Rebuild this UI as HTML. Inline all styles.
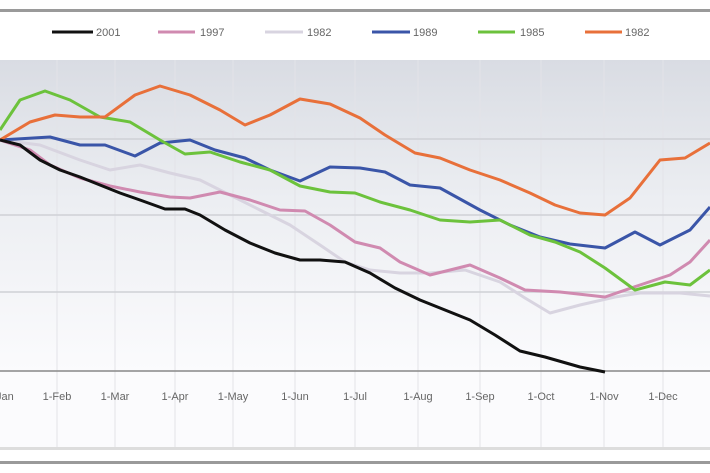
<!DOCTYPE html>
<html><head><style>
html,body{margin:0;padding:0;background:#fff;width:710px;height:473px;overflow:hidden}
svg{display:block}
text{font-family:"Liberation Sans Narrow","Liberation Sans",sans-serif;font-size:11px;fill:#666}
</style></head><body>
<svg width="710" height="473" viewBox="0 0 710 473">
<defs><linearGradient id="g" x1="0" y1="0" x2="0" y2="1">
<stop offset="0" stop-color="#d9dce3"/><stop offset="0.45" stop-color="#eceef2"/><stop offset="1" stop-color="#fbfbfd"/></linearGradient></defs>
<rect x="0" y="0" width="710" height="473" fill="#fff"/>
<rect x="0" y="9" width="710" height="3" fill="#9a9a9a"/>
<rect x="0" y="60" width="710" height="311" fill="url(#g)"/>
<rect x="0" y="371" width="710" height="76" fill="#fbfbfd"/>
<g stroke="#e3e3e8" stroke-width="1">
<line x1="57" y1="60" x2="57" y2="447"/><line x1="115" y1="60" x2="115" y2="447"/><line x1="175" y1="60" x2="175" y2="447"/><line x1="233" y1="60" x2="233" y2="447"/><line x1="295" y1="60" x2="295" y2="447"/><line x1="355" y1="60" x2="355" y2="447"/><line x1="418" y1="60" x2="418" y2="447"/><line x1="480" y1="60" x2="480" y2="447"/><line x1="541" y1="60" x2="541" y2="447"/><line x1="604" y1="60" x2="604" y2="447"/><line x1="663" y1="60" x2="663" y2="447"/>
</g>
<g stroke="#cfd1d6" stroke-width="1.5">
<line x1="0" y1="139" x2="710" y2="139"/><line x1="0" y1="215" x2="710" y2="215"/><line x1="0" y1="292" x2="710" y2="292"/></g>
<line x1="0" y1="371" x2="710" y2="371" stroke="#888" stroke-width="1.5"/>
<rect x="0" y="447" width="710" height="3" fill="#ddd"/>
<rect x="0" y="461" width="710" height="3" fill="#9a9a9a"/>
<g fill="none" stroke-width="3" stroke-linejoin="round">
<polyline stroke="#d8d4e0" points="0,140 40,145 80,160 110,170 140,165 170,173 200,180 230,195 260,210 290,225 320,245 345,262 370,270 400,273 430,273 465,270 500,282 525,298 550,313 580,305 615,297 640,293 680,293 710,296"/>
<polyline stroke="#d08ab0" points="0,140 30,150 50,165 80,178 110,186 140,192 170,197 190,198 220,192 250,200 280,210 305,211 330,225 355,242 380,248 400,262 430,275 470,265 500,278 525,290 560,292 605,297 640,285 670,275 690,262 710,240"/>
<polyline stroke="#3a55a8" points="0,140 50,137 80,145 105,145 135,156 160,143 190,140 215,150 245,158 270,170 300,181 330,167 360,168 385,172 410,185 440,188 480,210 510,225 540,237 570,244 605,248 635,232 660,245 690,230 710,207"/>
<polyline stroke="#6cc23c" points="0,130 20,100 45,91 70,100 100,117 130,122 160,140 185,154 210,152 240,162 270,170 300,186 330,192 355,193 380,202 410,210 440,220 470,222 500,220 530,235 555,242 580,252 605,268 635,290 665,282 690,285 710,270"/>
<polyline stroke="#e8703a" points="0,140 30,122 55,115 80,117 105,117 135,95 160,86 190,95 220,110 245,125 270,115 300,99 330,104 360,118 385,135 415,153 440,158 470,170 500,180 530,193 555,205 580,213 605,215 630,198 660,160 685,158 710,143"/>
<polyline stroke="#111" points="0,140 20,145 40,160 60,170 80,177 100,185 120,193 140,200 165,209 185,209 200,215 225,230 250,243 275,253 300,260 320,260 345,262 370,273 395,288 420,300 445,310 470,320 495,335 520,351 545,357 580,367 605,372"/>
</g>
<g stroke-width="3">
<line x1="52" y1="32" x2="93" y2="32" stroke="#111"/>
<line x1="158" y1="32" x2="195" y2="32" stroke="#d08ab0"/>
<line x1="265" y1="32" x2="303" y2="32" stroke="#d8d4e0"/>
<line x1="372" y1="32" x2="410" y2="32" stroke="#3a55a8"/>
<line x1="478" y1="32" x2="515" y2="32" stroke="#6cc23c"/>
<line x1="585" y1="32" x2="622" y2="32" stroke="#e8703a"/>
</g>
<text x="96" y="36">2001</text><text x="200" y="36">1997</text><text x="307" y="36">1982</text>
<text x="413" y="36">1989</text><text x="520" y="36">1985</text><text x="625" y="36">1982</text>
<g text-anchor="middle">
<text x="0" y="400">1-Jan</text><text x="57" y="400">1-Feb</text><text x="115" y="400">1-Mar</text><text x="175" y="400">1-Apr</text><text x="233" y="400">1-May</text><text x="295" y="400">1-Jun</text><text x="355" y="400">1-Jul</text><text x="418" y="400">1-Aug</text><text x="480" y="400">1-Sep</text><text x="541" y="400">1-Oct</text><text x="604" y="400">1-Nov</text><text x="663" y="400">1-Dec</text>
</g>
</svg>
</body></html>
